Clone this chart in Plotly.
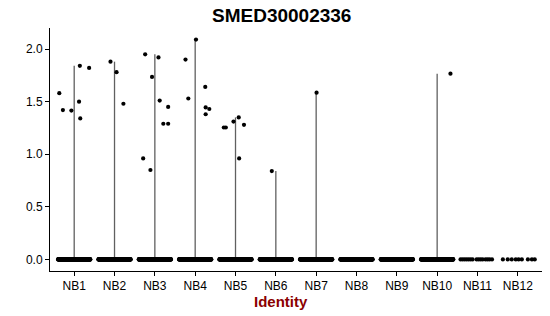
import plotly.graph_objects as go

categories = ["NB1", "NB2", "NB3", "NB4", "NB5", "NB6", "NB7", "NB8", "NB9", "NB10", "NB11", "NB12"]

# non-zero expression values per group
nz_values = {
    "NB1": [1.58, 1.42, 1.415, 1.84, 1.50, 1.34, 1.82],
    "NB2": [1.88, 1.78, 1.48],
    "NB3": [1.95, 1.92, 1.735, 1.51, 1.45, 1.29, 1.29, 0.96, 0.85],
    "NB4": [2.09, 1.90, 1.53, 1.64, 1.445, 1.43, 1.38],
    "NB5": [1.35, 1.31, 1.28, 1.254, 1.254, 0.96],
    "NB6": [0.84],
    "NB7": [1.585],
    "NB8": [],
    "NB9": [],
    "NB10": [1.766],
    "NB11": [],
    "NB12": [],
}
# horizontal jitter of those points (category units)
nz_jitter = {
    "NB1": [-0.37, -0.28, -0.07, 0.14, 0.12, 0.15, 0.37],
    "NB2": [-0.10, 0.05, 0.22],
    "NB3": [-0.24, 0.09, -0.07, 0.12, 0.33, 0.21, 0.33, -0.29, -0.11],
    "NB4": [0.02, -0.24, -0.17, 0.25, 0.26, 0.35, 0.26],
    "NB5": [0.08, -0.05, 0.21, -0.29, -0.24, 0.09],
    "NB6": [-0.10],
    "NB7": [0.01],
    "NB8": [],
    "NB9": [],
    "NB10": [0.33],
    "NB11": [],
    "NB12": [],
}
# number of zero-valued cells per group
zero_counts = [200, 200, 200, 200, 200, 200, 200, 200, 200, 200, 0, 0]
# sparse groups: explicit jitter of zero-valued cells
zero_jitter_sparse = {
    "NB11": [-0.42, -0.37, -0.32, -0.27, -0.22, -0.17, -0.12, -0.02, 0.03, 0.08, 0.13, 0.20, 0.25, 0.30, 0.36],
    "NB12": [-0.37, -0.25, -0.15, -0.05, 0.02, 0.10, 0.25, 0.35, 0.42],
}

fig = go.Figure()

# violin outlines (collapsed to lines): from 0 to group max
lx, ly = [], []
for i, c in enumerate(categories):
    vals = nz_values[c]
    if vals:
        lx += [i, i, None]
        ly += [0, max(vals), None]
fig.add_trace(go.Scatter(x=lx, y=ly, mode="lines",
                         line=dict(color="#606060", width=1.3),
                         hoverinfo="skip", showlegend=False))

# points
px, py = [], []
for i, c in enumerate(categories):
    n = zero_counts[i]
    if n > 0:
        for k in range(n):
            px.append(i - 0.4 + 0.8 * k / (n - 1))
            py.append(0)
    for j in zero_jitter_sparse.get(c, []):
        px.append(i + j)
        py.append(0)
    for v, j in zip(nz_values[c], nz_jitter[c]):
        px.append(i + j)
        py.append(v)
fig.add_trace(go.Scatter(x=px, y=py, mode="markers",
                         marker=dict(color="black", size=4.2, line=dict(width=0)),
                         showlegend=False))

axis_font = dict(family="Liberation Sans, Arial, sans-serif", size=12, color="black")
fig.update_layout(
    width=550, height=316,
    margin=dict(l=50, r=8, t=28, b=45),
    paper_bgcolor="white", plot_bgcolor="white",
    xaxis=dict(range=[-0.6, 11.6], tickmode="array",
               tickvals=list(range(len(categories))), ticktext=categories,
               showgrid=False, zeroline=False, showline=True,
               linecolor="black", linewidth=1, ticks="outside",
               ticklen=4, tickcolor="black", tickfont=axis_font,
               ticklabelstandoff=0),
    yaxis=dict(range=[-0.11, 2.2], tickmode="array",
               tickvals=[0, 0.5, 1.0, 1.5, 2.0],
               ticktext=["0.0", "0.5", "1.0", "1.5", "2.0"],
               showgrid=False, zeroline=False, showline=True,
               linecolor="black", linewidth=1, ticks="outside",
               ticklen=4, tickcolor="black", tickfont=axis_font),
    annotations=[
        dict(text="<b>SMED30002336</b>", xref="paper", yref="paper",
             x=0.4705, y=1.052, xanchor="center", yanchor="middle",
             showarrow=False,
             font=dict(family="Liberation Sans, Arial, sans-serif", size=19, color="black")),
        dict(text="<b>Identity</b>", xref="paper", yref="paper",
             x=0.4705, y=-0.124, xanchor="center", yanchor="middle",
             showarrow=False,
             font=dict(family="Liberation Sans, Arial, sans-serif", size=15, color="#8B0000")),
    ],
)

fig.write_html("out.html")
